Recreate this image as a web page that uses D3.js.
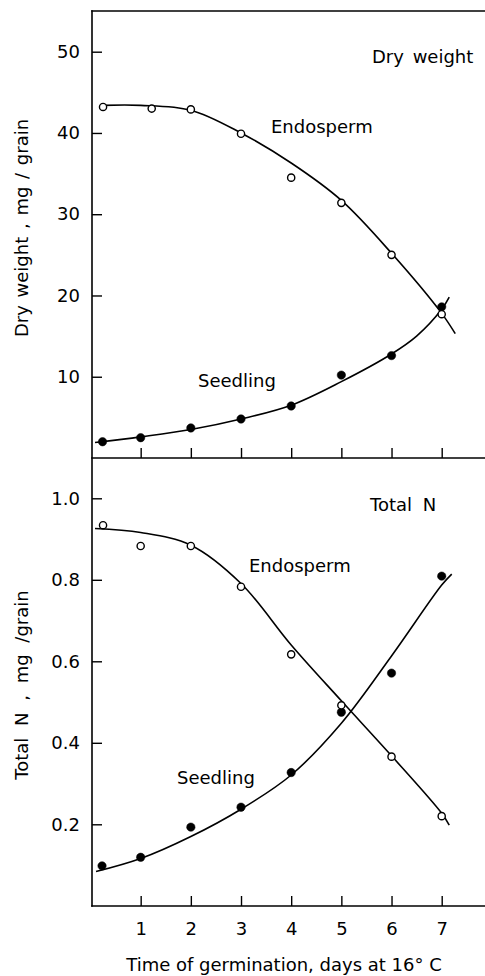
<!DOCTYPE html>
<html>
<head>
<meta charset="utf-8">
<script src="https://cdn.jsdelivr.net/npm/d3@7"></script>
<style>
  body { margin: 0; background: #fff; }
  svg text { font-family: "DejaVu Sans", sans-serif; font-size: 18px; fill: #000; }
</style>
</head>
<body>
<svg id="svg" width="485" height="976"></svg>
<script>
// measured points (day, value)
var dwEndoDays = [0.25, 1.22, 2, 3, 4, 5, 6, 7];
var dwEndo = [43.2, 43.0, 42.9, 39.9, 34.5, 31.4, 25.0, 17.7];
var dwSeedDays = [0.24, 1, 2, 3, 4, 5, 6, 7];
var dwSeed = [2.0, 2.5, 3.7, 4.8, 6.4, 10.2, 12.6, 18.6];

var nEndoDays = [0.25, 1, 2, 3, 4, 5, 6, 7];
var nEndo = [0.934, 0.883, 0.883, 0.783, 0.617, 0.492, 0.366, 0.220];
var nSeedDays = [0.23, 1, 2, 3, 4, 5, 6, 7];
var nSeed = [0.098, 0.119, 0.193, 0.242, 0.327, 0.475, 0.571, 0.809];

// fitted curves
var dwEndoCurveDays = [0.25, 1, 2, 3, 4, 5, 6, 7, 7.27];
var dwEndoCurve = [43.4, 43.4, 42.8, 40.0, 36.3, 31.7, 25.2, 17.8, 15.3];
var dwSeedCurveDays = [0.09, 1, 2, 3, 4, 5, 6, 6.5, 7, 7.15];
var dwSeedCurve = [1.9, 2.6, 3.5, 4.8, 6.5, 9.4, 12.8, 15.0, 18.3, 19.8];

var nEndoCurveDays = [0.09, 1, 2, 3, 4, 5, 6, 7, 7.15];
var nEndoCurve = [0.926, 0.916, 0.885, 0.791, 0.640, 0.503, 0.368, 0.227, 0.198];
var nSeedCurveDays = [0.11, 1, 2, 3, 4, 5, 6, 7, 7.2];
var nSeedCurve = [0.084, 0.116, 0.170, 0.237, 0.321, 0.448, 0.613, 0.787, 0.814];

var dayTicks = [1, 2, 3, 4, 5, 6, 7];
var dwTicks = [10, 20, 30, 40, 50];
var nTicks = [0.2, 0.4, 0.6, 0.8, 1.0];

var svg = d3.select("#svg");
var left = 92, right = 485;

var x = d3.scaleLinear().domain([0, 7]).range([90.5, 441.7]);
var yTop = d3.scaleLinear().domain([0, 50]).range([458, 51.7]);
var yBot = d3.scaleLinear().domain([0, 1]).range([905.8, 498.3]);

// frame
var frame = [[left, 11, right, 11], [left, 11, left, 906], [left, 458, right, 458], [left, 906, right, 906]];
svg.selectAll("line.frame").data(frame).enter().append("line")
    .attr("class", "frame")
    .attr("x1", function(d){return d[0]})
    .attr("y1", function(d){return d[1]})
    .attr("x2", function(d){return d[2]})
    .attr("y2", function(d){return d[3]})
    .attr("stroke", "#000")
    .attr("stroke-width", 1.6)
    .attr("stroke-linecap", "square");

// y axes
function yAxis(scale, ticks, fmt) {
    var g = svg.append("g").attr("transform", "translate(" + left + ",0)")
        .call(d3.axisLeft(scale).tickValues(ticks).tickSize(-10).tickPadding(12).tickFormat(fmt));
    g.select(".domain").remove();
    g.selectAll("line").attr("stroke-width", 1.4);
    g.selectAll("text").attr("font-size", null).attr("font-family", null);
    g.attr("font-size", null).attr("font-family", null);
}
yAxis(yTop, dwTicks, d3.format("d"));
yAxis(yBot, nTicks, d3.format(".1f"));

// x axes
function xAxis(yPos, labels) {
    var g = svg.append("g").attr("transform", "translate(0," + yPos + ")")
        .call(d3.axisBottom(x).tickValues(dayTicks).tickSize(-10).tickPadding(16)
            .tickFormat(labels ? d3.format("d") : function(){return ""}));
    g.select(".domain").remove();
    g.selectAll("line").attr("stroke-width", 1.4);
    g.attr("font-size", null).attr("font-family", null);
}
xAxis(458, false);
xAxis(906, true);

// curves
function curve(days, vals, y) {
    var pts = days.map(function(d, i){return [d, vals[i]]});
    svg.append("path")
        .attr("d", d3.line()
            .x(function(d){return x(d[0])})
            .y(function(d){return y(d[1])})
            .curve(d3.curveCatmullRom)(pts))
        .attr("fill", "none")
        .attr("stroke", "#000")
        .attr("stroke-width", 1.6);
}
curve(dwEndoCurveDays, dwEndoCurve, yTop);
curve(dwSeedCurveDays, dwSeedCurve, yTop);
curve(nEndoCurveDays, nEndoCurve, yBot);
curve(nSeedCurveDays, nSeedCurve, yBot);

// points
function dots(days, vals, y, filled) {
    svg.append("g").selectAll("circle").data(vals).enter().append("circle")
        .attr("cx", function(d, i){return x(days[i])})
        .attr("cy", function(d){return y(d)})
        .attr("r", filled ? 4.2 : 3.6)
        .attr("fill", filled ? "#000" : "#fff")
        .attr("stroke", "#000")
        .attr("stroke-width", filled ? 0.5 : 1.4);
}
dots(dwSeedDays, dwSeed, yTop, true);
dots(dwEndoDays, dwEndo, yTop, false);
dots(nSeedDays, nSeed, yBot, true);
dots(nEndoDays, nEndo, yBot, false);

// labels
var labels = [
    ["Dry weight", 372, 63, 3],
    ["Endosperm", 271, 133, 0],
    ["Seedling", 198, 387, 0],
    ["Total N", 370, 511, 5],
    ["Endosperm", 249, 572, 0],
    ["Seedling", 177, 784, 0]
];
svg.selectAll("text.lab").data(labels).enter().append("text")
    .attr("class", "lab")
    .attr("x", function(d){return d[1]})
    .attr("y", function(d){return d[2]})
    .attr("word-spacing", function(d){return d[3]})
    .text(function(d){return d[0]});

// axis titles
svg.append("text")
    .attr("transform", "translate(28,228) rotate(-90)")
    .attr("text-anchor", "middle")
    .attr("word-spacing", 2)
    .text("Dry weight , mg / grain");
svg.append("text")
    .attr("transform", "translate(28,685) rotate(-90)")
    .attr("text-anchor", "middle")
    .attr("word-spacing", 6)
    .text("Total N , mg /grain");
svg.append("text")
    .attr("x", 284)
    .attr("y", 971)
    .attr("text-anchor", "middle")
    .text("Time of germination, days at 16° C");
</script>
</body>
</html>
